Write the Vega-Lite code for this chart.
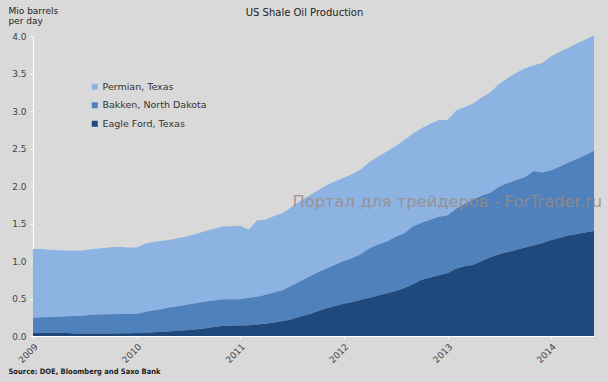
{
  "$schema": "https://vega.github.io/schema/vega-lite/v6.json",
  "width": 561,
  "height": 300,
  "autosize": "none",
  "padding": {"left": 33, "top": 36, "right": 14, "bottom": 46},
  "background": "#d9d9d9",
  "config": {"view": {"stroke": null}, "font": "DejaVu Sans"},
  "title": {"text": "US Shale Oil Production", "anchor": "middle", "frame": "group", "dx": -9, "offset": -12, "fontSize": 10, "fontWeight": "normal", "color": "#222222"},
  "datasets": {
    "prod": [
      {"date": "2009-01-01", "Eagle Ford, Texas": 0.045, "Bakken, North Dakota": 0.200, "Permian, Texas": 0.915},
      {"date": "2009-02-01", "Eagle Ford, Texas": 0.045, "Bakken, North Dakota": 0.205, "Permian, Texas": 0.910},
      {"date": "2009-03-01", "Eagle Ford, Texas": 0.045, "Bakken, North Dakota": 0.210, "Permian, Texas": 0.895},
      {"date": "2009-04-01", "Eagle Ford, Texas": 0.045, "Bakken, North Dakota": 0.213, "Permian, Texas": 0.887},
      {"date": "2009-05-01", "Eagle Ford, Texas": 0.040, "Bakken, North Dakota": 0.222, "Permian, Texas": 0.878},
      {"date": "2009-06-01", "Eagle Ford, Texas": 0.035, "Bakken, North Dakota": 0.232, "Permian, Texas": 0.871},
      {"date": "2009-07-01", "Eagle Ford, Texas": 0.032, "Bakken, North Dakota": 0.243, "Permian, Texas": 0.870},
      {"date": "2009-08-01", "Eagle Ford, Texas": 0.032, "Bakken, North Dakota": 0.253, "Permian, Texas": 0.875},
      {"date": "2009-09-01", "Eagle Ford, Texas": 0.033, "Bakken, North Dakota": 0.257, "Permian, Texas": 0.880},
      {"date": "2009-10-01", "Eagle Ford, Texas": 0.035, "Bakken, North Dakota": 0.255, "Permian, Texas": 0.895},
      {"date": "2009-11-01", "Eagle Ford, Texas": 0.036, "Bakken, North Dakota": 0.256, "Permian, Texas": 0.898},
      {"date": "2009-12-01", "Eagle Ford, Texas": 0.038, "Bakken, North Dakota": 0.255, "Permian, Texas": 0.887},
      {"date": "2010-01-01", "Eagle Ford, Texas": 0.040, "Bakken, North Dakota": 0.255, "Permian, Texas": 0.885},
      {"date": "2010-02-01", "Eagle Ford, Texas": 0.045, "Bakken, North Dakota": 0.280, "Permian, Texas": 0.910},
      {"date": "2010-03-01", "Eagle Ford, Texas": 0.050, "Bakken, North Dakota": 0.290, "Permian, Texas": 0.915},
      {"date": "2010-04-01", "Eagle Ford, Texas": 0.058, "Bakken, North Dakota": 0.302, "Permian, Texas": 0.910},
      {"date": "2010-05-01", "Eagle Ford, Texas": 0.063, "Bakken, North Dakota": 0.322, "Permian, Texas": 0.900},
      {"date": "2010-06-01", "Eagle Ford, Texas": 0.070, "Bakken, North Dakota": 0.330, "Permian, Texas": 0.910},
      {"date": "2010-07-01", "Eagle Ford, Texas": 0.080, "Bakken, North Dakota": 0.340, "Permian, Texas": 0.910},
      {"date": "2010-08-01", "Eagle Ford, Texas": 0.090, "Bakken, North Dakota": 0.350, "Permian, Texas": 0.925},
      {"date": "2010-09-01", "Eagle Ford, Texas": 0.105, "Bakken, North Dakota": 0.355, "Permian, Texas": 0.940},
      {"date": "2010-10-01", "Eagle Ford, Texas": 0.120, "Bakken, North Dakota": 0.355, "Permian, Texas": 0.955},
      {"date": "2010-11-01", "Eagle Ford, Texas": 0.135, "Bakken, North Dakota": 0.355, "Permian, Texas": 0.970},
      {"date": "2010-12-01", "Eagle Ford, Texas": 0.140, "Bakken, North Dakota": 0.350, "Permian, Texas": 0.975},
      {"date": "2011-01-01", "Eagle Ford, Texas": 0.140, "Bakken, North Dakota": 0.350, "Permian, Texas": 0.980},
      {"date": "2011-02-01", "Eagle Ford, Texas": 0.145, "Bakken, North Dakota": 0.365, "Permian, Texas": 0.910},
      {"date": "2011-03-01", "Eagle Ford, Texas": 0.155, "Bakken, North Dakota": 0.370, "Permian, Texas": 1.015},
      {"date": "2011-04-01", "Eagle Ford, Texas": 0.165, "Bakken, North Dakota": 0.385, "Permian, Texas": 1.005},
      {"date": "2011-05-01", "Eagle Ford, Texas": 0.180, "Bakken, North Dakota": 0.400, "Permian, Texas": 1.020},
      {"date": "2011-06-01", "Eagle Ford, Texas": 0.200, "Bakken, North Dakota": 0.415, "Permian, Texas": 1.030},
      {"date": "2011-07-01", "Eagle Ford, Texas": 0.225, "Bakken, North Dakota": 0.445, "Permian, Texas": 1.050},
      {"date": "2011-08-01", "Eagle Ford, Texas": 0.260, "Bakken, North Dakota": 0.470, "Permian, Texas": 1.070},
      {"date": "2011-09-01", "Eagle Ford, Texas": 0.290, "Bakken, North Dakota": 0.500, "Permian, Texas": 1.080},
      {"date": "2011-10-01", "Eagle Ford, Texas": 0.330, "Bakken, North Dakota": 0.520, "Permian, Texas": 1.090},
      {"date": "2011-11-01", "Eagle Ford, Texas": 0.370, "Bakken, North Dakota": 0.530, "Permian, Texas": 1.110},
      {"date": "2011-12-01", "Eagle Ford, Texas": 0.400, "Bakken, North Dakota": 0.550, "Permian, Texas": 1.110},
      {"date": "2012-01-01", "Eagle Ford, Texas": 0.430, "Bakken, North Dakota": 0.570, "Permian, Texas": 1.110},
      {"date": "2012-02-01", "Eagle Ford, Texas": 0.455, "Bakken, North Dakota": 0.585, "Permian, Texas": 1.120},
      {"date": "2012-03-01", "Eagle Ford, Texas": 0.485, "Bakken, North Dakota": 0.605, "Permian, Texas": 1.130},
      {"date": "2012-04-01", "Eagle Ford, Texas": 0.510, "Bakken, North Dakota": 0.660, "Permian, Texas": 1.150},
      {"date": "2012-05-01", "Eagle Ford, Texas": 0.540, "Bakken, North Dakota": 0.680, "Permian, Texas": 1.170},
      {"date": "2012-06-01", "Eagle Ford, Texas": 0.570, "Bakken, North Dakota": 0.690, "Permian, Texas": 1.200},
      {"date": "2012-07-01", "Eagle Ford, Texas": 0.600, "Bakken, North Dakota": 0.720, "Permian, Texas": 1.210},
      {"date": "2012-08-01", "Eagle Ford, Texas": 0.640, "Bakken, North Dakota": 0.730, "Permian, Texas": 1.240},
      {"date": "2012-09-01", "Eagle Ford, Texas": 0.690, "Bakken, North Dakota": 0.770, "Permian, Texas": 1.240},
      {"date": "2012-10-01", "Eagle Ford, Texas": 0.750, "Bakken, North Dakota": 0.760, "Permian, Texas": 1.260},
      {"date": "2012-11-01", "Eagle Ford, Texas": 0.780, "Bakken, North Dakota": 0.770, "Permian, Texas": 1.280},
      {"date": "2012-12-01", "Eagle Ford, Texas": 0.810, "Bakken, North Dakota": 0.780, "Permian, Texas": 1.290},
      {"date": "2013-01-01", "Eagle Ford, Texas": 0.840, "Bakken, North Dakota": 0.770, "Permian, Texas": 1.270},
      {"date": "2013-02-01", "Eagle Ford, Texas": 0.900, "Bakken, North Dakota": 0.800, "Permian, Texas": 1.310},
      {"date": "2013-03-01", "Eagle Ford, Texas": 0.930, "Bakken, North Dakota": 0.830, "Permian, Texas": 1.290},
      {"date": "2013-04-01", "Eagle Ford, Texas": 0.950, "Bakken, North Dakota": 0.870, "Permian, Texas": 1.280},
      {"date": "2013-05-01", "Eagle Ford, Texas": 1.000, "Bakken, North Dakota": 0.870, "Permian, Texas": 1.310},
      {"date": "2013-06-01", "Eagle Ford, Texas": 1.050, "Bakken, North Dakota": 0.860, "Permian, Texas": 1.340},
      {"date": "2013-07-01", "Eagle Ford, Texas": 1.090, "Bakken, North Dakota": 0.900, "Permian, Texas": 1.370},
      {"date": "2013-08-01", "Eagle Ford, Texas": 1.120, "Bakken, North Dakota": 0.920, "Permian, Texas": 1.400},
      {"date": "2013-09-01", "Eagle Ford, Texas": 1.150, "Bakken, North Dakota": 0.930, "Permian, Texas": 1.430},
      {"date": "2013-10-01", "Eagle Ford, Texas": 1.180, "Bakken, North Dakota": 0.940, "Permian, Texas": 1.450},
      {"date": "2013-11-01", "Eagle Ford, Texas": 1.210, "Bakken, North Dakota": 0.990, "Permian, Texas": 1.410},
      {"date": "2013-12-01", "Eagle Ford, Texas": 1.240, "Bakken, North Dakota": 0.940, "Permian, Texas": 1.460},
      {"date": "2014-01-01", "Eagle Ford, Texas": 1.280, "Bakken, North Dakota": 0.930, "Permian, Texas": 1.520},
      {"date": "2014-02-01", "Eagle Ford, Texas": 1.310, "Bakken, North Dakota": 0.950, "Permian, Texas": 1.530},
      {"date": "2014-03-01", "Eagle Ford, Texas": 1.340, "Bakken, North Dakota": 0.970, "Permian, Texas": 1.530},
      {"date": "2014-04-01", "Eagle Ford, Texas": 1.360, "Bakken, North Dakota": 1.000, "Permian, Texas": 1.540},
      {"date": "2014-05-01", "Eagle Ford, Texas": 1.380, "Bakken, North Dakota": 1.030, "Permian, Texas": 1.540},
      {"date": "2014-06-01", "Eagle Ford, Texas": 1.400, "Bakken, North Dakota": 1.070, "Permian, Texas": 1.540}
    ],
    "mark": [
      {"date": "2014-06-01", "value": 1.79, "label": "Портал для трейдеров - ForTrader.ru"}
    ]
  },
  "encoding": {
    "x": {
      "field": "date", "type": "temporal",
      "scale": {"type": "utc", "nice": false},
      "axis": {
        "title": "Source: DOE, Bloomberg and Saxo Bank",
        "titleX": -25, "titleY": 35, "titleAlign": "left", "titleAnchor": null, "titleBaseline": "middle",
        "titleFont": "DejaVu Sans Condensed", "titleFontSize": 7.5, "titleFontWeight": "bold", "titleColor": "#222222",
        "format": "%Y", "tickCount": "year", "labelAngle": -45, "labelFontSize": 9, "labelColor": "#444444",
        "labelPadding": 3, "tickColor": "#ffffff", "tickSize": 3, "domainColor": "#ffffff", "grid": false
      }
    },
    "y": {
      "field": "value", "type": "quantitative",
      "scale": {"domain": [0, 4], "nice": false},
      "axis": {
        "title": ["Mio barrels", "per day"],
        "titleAngle": 0, "titleAlign": "left", "titleBaseline": "top", "titleX": -25, "titleY": -30,
        "titleFontSize": 9, "titleFontWeight": "normal", "titleColor": "#222222", "titleLineHeight": 10,
        "values": [0, 0.5, 1, 1.5, 2, 2.5, 3, 3.5, 4], "format": ".1f", "labelOverlap": false,
        "labelFontSize": 9, "labelColor": "#444444", "labelPadding": 4,
        "tickColor": "#ffffff", "tickSize": 3, "domainColor": "#ffffff", "grid": false
      }
    }
  },
  "layer": [
    {
      "data": {"name": "prod"},
      "transform": [
        {"fold": ["Permian, Texas", "Bakken, North Dakota", "Eagle Ford, Texas"], "as": ["region", "value"]},
        {"calculate": "indexof(['Eagle Ford, Texas','Bakken, North Dakota','Permian, Texas'], datum.region)", "as": "stackOrder"}
      ],
      "mark": {"type": "area", "interpolate": "linear", "opacity": 1},
      "encoding": {
        "color": {
          "field": "region", "type": "nominal",
          "scale": {"domain": ["Permian, Texas", "Bakken, North Dakota", "Eagle Ford, Texas"], "range": ["#8db3e2", "#4f81bd", "#1f497d"]},
          "legend": {
            "title": null, "orient": "none", "legendX": 57, "legendY": 46,
            "symbolType": "square", "symbolSize": 36, "symbolStrokeWidth": 0, "symbolOpacity": 1,
            "labelFontSize": 9.5, "labelColor": "#333333", "labelOffset": 3, "rowPadding": 7.5
          }
        },
        "order": {"field": "stackOrder", "type": "quantitative"}
      }
    },
    {
      "data": {"name": "mark"},
      "mark": {"type": "text", "align": "right", "baseline": "middle", "dx": 8, "fontSize": 16.3, "color": "#9c8a82", "opacity": 0.8},
      "encoding": {
        "text": {"field": "label"}
      }
    }
  ]
}
